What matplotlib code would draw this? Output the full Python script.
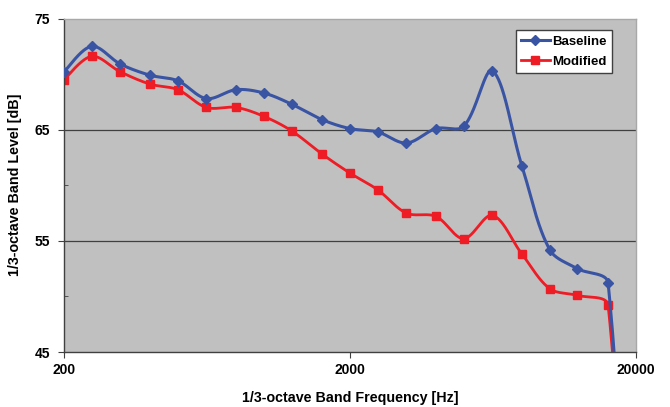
import numpy as np
import matplotlib
matplotlib.use("Agg")
import matplotlib.pyplot as plt
from matplotlib.lines import Line2D

plt.rcParams['font.family'] = ['Liberation Sans', 'DejaVu Sans']

# 1/3-octave band centre frequencies [Hz]
freqs = [200, 250, 315, 400, 500, 630, 800, 1000, 1250, 1600, 2000,
         2500, 3150, 4000, 5000, 6300, 8000, 10000, 12500, 16000, 20000]
baseline = [70.2, 72.5, 70.9, 69.9, 69.4, 67.8, 68.6, 68.3, 67.3, 65.9, 65.1,
            64.8, 63.8, 65.1, 65.3, 70.3, 61.7, 54.2, 52.5, 51.2, 0.0]
modified = [69.5, 71.6, 70.2, 69.1, 68.6, 67.0, 67.0, 66.2, 64.9, 62.8, 61.1,
            59.6, 57.5, 57.2, 55.2, 57.3, 53.8, 50.7, 50.1, 49.2, 0.0]

x_ticks = [200, 2000, 20000]
y_ticks = [45, 55, 65, 75]

# rough screen scale of the plot area, used only to weight the smoothing
PX_DECADE = 286.0
PX_DB = 11.12


# excel-like smoothed line: bezier segments, tangents weighted by chord length
def smooth(xs, ys, n=60):
    u = np.log10(np.asarray(xs, float)) * PX_DECADE
    v = np.asarray(ys, float) * PX_DB
    pts = np.column_stack([u, v])
    out = []
    for i in range(len(pts) - 1):
        p0 = pts[i - 1] if i > 0 else pts[i]
        p1 = pts[i]
        p2 = pts[i + 1]
        p3 = pts[i + 2] if i + 2 < len(pts) else pts[i + 1]
        d01 = np.hypot(*(p1 - p0))
        d12 = np.hypot(*(p2 - p1))
        d23 = np.hypot(*(p3 - p2))
        f1 = d12 / (d01 + d12) / 3.0 if d01 > 0 else 1 / 6.0
        f2 = d12 / (d12 + d23) / 3.0 if d23 > 0 else 1 / 6.0
        b1 = p1 + (p2 - p0) * f1
        b2 = p2 - (p3 - p1) * f2
        t = np.linspace(0, 1, n)[:, None]
        seg = ((1 - t) ** 3) * p1 + 3 * ((1 - t) ** 2) * t * b1 \
            + 3 * (1 - t) * t ** 2 * b2 + t ** 3 * p2
        out.append(seg if i == 0 else seg[1:])
    out = np.vstack(out)
    return 10 ** (out[:, 0] / PX_DECADE), out[:, 1] / PX_DB


blue = '#3A54A4'
red = '#EE1C25'

fig = plt.figure(figsize=(6.7, 4.07), dpi=100)
ax = fig.add_axes([0.0955, 0.135, 0.8535, 0.8195])
ax.set_facecolor('#C0C0C0')

ax.set_xscale('log')
ax.set_xlim(200, 20000)
ax.set_ylim(45, 75)

for yv in [55, 65]:
    ax.axhline(yv, color='#404040', lw=0.9, zorder=1)

sx, sy = smooth(freqs, baseline)
ax.plot(sx, sy, color=blue, lw=2.2, zorder=3)
ax.plot(freqs, baseline, ls='none', marker='D', ms=5, color=blue, zorder=4)

sx, sy = smooth(freqs, modified)
ax.plot(sx, sy, color=red, lw=2.0, zorder=2)
ax.plot(freqs, modified, ls='none', marker='s', ms=6, color=red, zorder=2.5)

ax.set_xticks(x_ticks)
ax.set_xticklabels([str(t) for t in x_ticks])
ax.xaxis.set_minor_locator(matplotlib.ticker.NullLocator())
ax.set_yticks(y_ticks)
ax.set_yticks([50, 60, 70], minor=True)
ax.tick_params(axis='y', which='minor', direction='in', length=3, color='#404040')
ax.tick_params(axis='both', which='major', direction='out', length=4,
               color='#404040', labelsize=10, pad=4)
ax.tick_params(axis='y', which='major', pad=6)
for lab in ax.get_xticklabels() + ax.get_yticklabels():
    lab.set_fontweight('bold')

for side in ['left', 'bottom']:
    ax.spines[side].set_color('#404040')
    ax.spines[side].set_linewidth(1.0)
for side in ['top', 'right']:
    ax.spines[side].set_color('#A8A8A8')
    ax.spines[side].set_linewidth(1.0)

ax.set_xlabel('1/3-octave Band Frequency [Hz]', fontsize=10.3, fontweight='bold', labelpad=10)
ax.set_ylabel('1/3-octave Band Level [dB]', fontsize=10.3, fontweight='bold', labelpad=9)

handles = [Line2D([], [], color=blue, lw=2.2, marker='D', ms=5),
           Line2D([], [], color=red, lw=2.0, marker='s', ms=6)]
leg = ax.legend(handles, ['Baseline', 'Modified'], loc='upper right',
                bbox_to_anchor=(0.959, 0.9655), borderaxespad=0, fancybox=False,
                framealpha=1, edgecolor='#404040', handlelength=2.2,
                handletextpad=0.2, borderpad=0.4, labelspacing=0.6,
                prop={'weight': 'bold', 'size': 9.5})
leg.get_frame().set_linewidth(1.0)

fig.savefig('out.png', dpi=100)
